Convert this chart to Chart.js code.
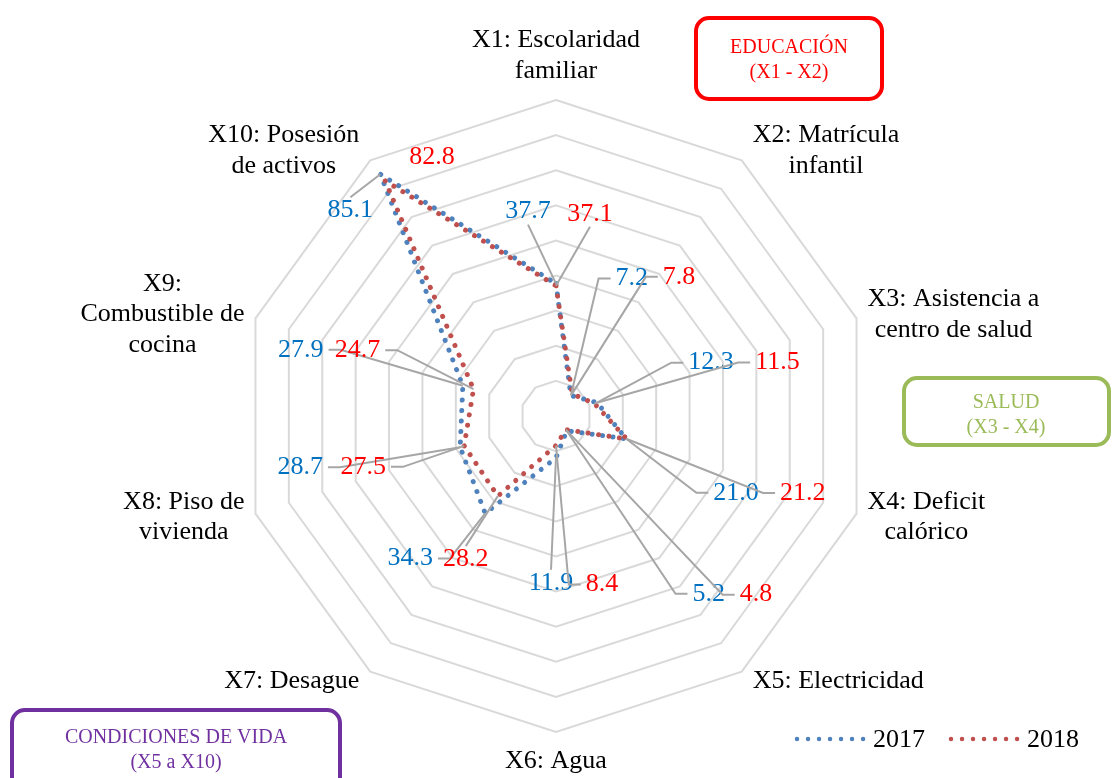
<!DOCTYPE html>
<html>
<head>
<meta charset="utf-8">
<script src="https://cdn.jsdelivr.net/npm/chart.js@4.4.1/dist/chart.umd.min.js"></script>
<style>
  html, body { margin: 0; padding: 0; background: #fff; }
  #wrap { position: relative; width: 1112px; height: 778px; }
</style>
</head>
<body>
<div id="wrap"><canvas id="radar"></canvas></div>
<script>
// --- data ---
const categories = [
  ["X1: Escolaridad", "familiar"],
  ["X2: Matrícula", "infantil"],
  ["X3: Asistencia a", "centro de salud"],
  ["X4: Deficit", "calórico"],
  ["X5: Electricidad"],
  ["X6: Agua"],
  ["X7: Desague"],
  ["X8: Piso de", "vivienda"],
  ["X9:", "Combustible de", "cocina"],
  ["X10: Posesión", "de activos"]
];
const seriesNames = ["2017", "2018"];
const values2017 = [37.7, 7.2, 12.3, 21.0, 5.2, 11.9, 34.3, 28.7, 27.9, 85.1];
const values2018 = [37.1, 7.8, 11.5, 21.2, 4.8, 8.4, 28.2, 27.5, 24.7, 82.8];
const scaleMin = 0;
const scaleMax = 90;
const scaleStep = 10;
const groupTitles = ["EDUCACIÓN", "SALUD", "CONDICIONES DE VIDA"];
const groupRanges = ["(X1 - X2)", "(X3 - X4)", "(X5 a X10)"];

// label placement (pixel nudges from each point, like dragged excel labels)
const nudge2017 = [[-28, -72], [61, -117], [114, -40], [110, 54], [142, 163],
  [-5, 125], [-75, 45], [-160, 20], [-162, -36], [-30, 36]];
const nudge2018 = [[34, -72], [107, -117], [183, -41], [176, 54], [190, 165],
  [46, 139], [-32, 63], [-101, 21], [-116, -39], [47, -24]];
const noLeader2018 = [9];

const FONT = "'Liberation Serif', 'Times New Roman', serif";
const blue = "#4F81BD", red = "#C0504D";
const blueText = "#0070C0", redText = "#FF0000";

const decorations = {
  id: "decorations",
  afterDatasetsDraw(chart) {
    const ctx = chart.ctx;
    const r = chart.scales.r;
    ctx.save();

    // axis labels around the outside
    ctx.font = "26px " + FONT;
    ctx.fillStyle = "#000";
    ctx.textBaseline = "middle";
    ctx.textAlign = "center";
    const lh = 30.5;
    categories.forEach((lines, i) => {
      const v = r.getPointPosition(i, r.drawingArea);
      const a = i * Math.PI * 2 / categories.length;
      const s = Math.sin(a), c = Math.cos(a);
      const w = Math.max(...lines.map(t => ctx.measureText(t).width));
      const h = lines.length * lh;
      let cx, top;
      if (Math.abs(s) < 0.1) {
        cx = v.x;
        top = c > 0 ? v.y - 14 - h : v.y + 14;
      } else {
        cx = s > 0 ? v.x + 11 + w / 2 : v.x - 11 - w / 2;
        top = v.y - 12 * c - h / 2;
      }
      lines.forEach((t, k) => ctx.fillText(t, cx, top + lh * (k + 0.5)));
    });

    // data labels with leader lines
    const sets = [[values2017, nudge2017, blueText, []], [values2018, nudge2018, redText, noLeader2018]];
    ctx.font = "26px " + FONT;
    sets.forEach(([vals, nud, col, skip]) => {
      vals.forEach((val, i) => {
        const p = r.getPointPositionForValue(i, val);
        const [dx, dy] = nud[i];
        const lx = p.x + dx, ly = p.y + dy;
        const txt = val.toFixed(1);
        const w = ctx.measureText(txt).width;
        if (!skip.includes(i)) {
          ctx.strokeStyle = "#A6A6A6";
          ctx.lineWidth = 2;
          ctx.beginPath();
          if (Math.abs(dx) >= 40) {
            const sg = Math.sign(dx);
            const ex = lx - sg * (w / 2 + 5);
            ctx.moveTo(ex, ly);
            ctx.lineTo(ex - sg * 12, ly);
          } else {
            ctx.moveTo(lx, ly - Math.sign(dy) * 13);
          }
          ctx.lineTo(p.x, p.y);
          ctx.stroke();
        }
        ctx.fillStyle = col;
        ctx.fillText(txt, lx, ly);
      });
    });

    // group boxes
    const boxes = [
      [696, 18, 186, 81, "#FF0000", 789, 60.5],
      [904, 378, 205, 67, "#9BBB59", 1006, 415],
      [12, 710, 328, 100, "#7030A0", 176, 750]
    ];
    ctx.font = "20px " + FONT;
    boxes.forEach(([x, y, w, h, col, tx, ty], k) => {
      ctx.strokeStyle = col;
      ctx.lineWidth = 4;
      ctx.beginPath();
      ctx.roundRect(x, y, w, h, 13);
      ctx.stroke();
      ctx.fillStyle = col;
      ctx.fillText(groupTitles[k], tx, ty - 12.5);
      ctx.fillText(groupRanges[k], tx, ty + 12.5);
    });

    // legend
    const leg = [[797, blue], [951, red]];
    ctx.font = "26px " + FONT;
    ctx.textAlign = "left";
    leg.forEach(([x, col], k) => {
      ctx.strokeStyle = col;
      ctx.lineWidth = 4.5;
      ctx.lineCap = "round";
      ctx.setLineDash([0.01, 11]);
      ctx.beginPath();
      ctx.moveTo(x, 739);
      ctx.lineTo(x + 68, 739);
      ctx.stroke();
      ctx.setLineDash([]);
      ctx.fillStyle = "#000";
      ctx.fillText(seriesNames[k], x + 76, 740);
    });
    ctx.restore();
  }
};

const lineStyle = (col) => ({
  borderColor: col,
  borderWidth: 5,
  borderDash: [0.01, 10.5],
  borderCapStyle: "round",
  pointRadius: 0,
  pointHoverRadius: 0,
  fill: false,
  tension: 0
});

new Chart(document.getElementById("radar"), {
  type: "radar",
  data: {
    labels: categories,
    datasets: [
      { label: seriesNames[0], data: values2017, order: 1, ...lineStyle(blue) },
      { label: seriesNames[1], data: values2018, order: 0, ...lineStyle(red) }
    ]
  },
  options: {
    responsive: true,
    maintainAspectRatio: false,
    animation: false,
    layout: { padding: { top: 100, bottom: 45, left: 0, right: 0 } },
    plugins: { legend: { display: false }, tooltip: { enabled: false } },
    scales: {
      r: {
        min: scaleMin,
        max: scaleMax,
        ticks: { display: false, stepSize: scaleStep },
        grid: { color: "#D9D9D9", lineWidth: 2 },
        angleLines: { display: false },
        pointLabels: { display: false }
      }
    }
  },
  plugins: [decorations]
});
</script>
</body>
</html>
